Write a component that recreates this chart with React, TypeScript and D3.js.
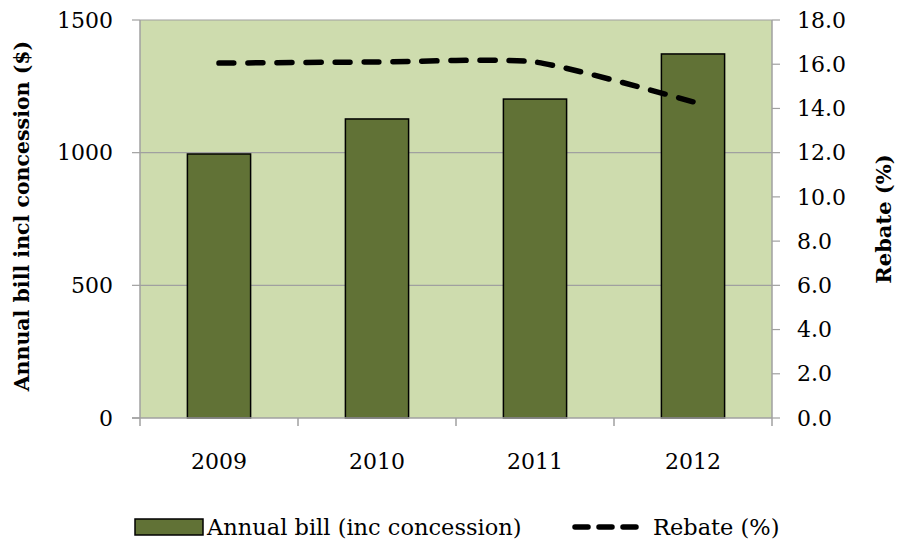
import React from "react";
import * as d3 from "d3";

const years = ["2009", "2010", "2011", "2012"];
const annualBill = [995, 1127, 1202, 1372];
const rebate = [16.05, 16.1, 16.1, 14.3];
const leftTicks = [0, 500, 1000, 1500];
const rightTicks = [0, 2, 4, 6, 8, 10, 12, 14, 16, 18];

const W = 899;
const H = 546;
const M = { left: 140, right: 772, top: 20, bottom: 418 };
const FONT = "'DejaVu Serif', 'Liberation Serif', serif";
const BAR = "#617236";
const BG = "#cedcae";
const AXIS = "#a0a0a0";

export default function App() {
  const x = d3.scaleBand<string>().domain(years).range([M.left, M.right]).paddingInner(0.6).paddingOuter(0.3);
  const xc = d3.scaleBand<string>().domain(years).range([M.left, M.right]);
  const yL = d3.scaleLinear().domain([0, 1500]).range([M.bottom, M.top]);
  const yR = d3.scaleLinear().domain([0, 18]).range([M.bottom, M.top]);
  const line = d3
    .line<number>()
    .x((_, i) => (xc(years[i]) as number) + xc.bandwidth() / 2)
    .y((d) => yR(d))
    .curve(d3.curveCardinal.tension(0.4));
  const bounds = [...years.map((y) => xc(y) as number), M.right];

  return (
    <svg width={W} height={H} style={{ position: "absolute", left: 0, top: 0, background: "#fff" }} fontFamily={FONT}>
      <rect x={M.left} y={M.top} width={M.right - M.left} height={M.bottom - M.top} fill={BG} />
      {leftTicks.map((t) => (
        <g key={"g" + t}>
          {t > 0 && <line x1={M.left} x2={M.right} y1={yL(t)} y2={yL(t)} stroke={AXIS} strokeWidth={1.2} />}
          <line x1={M.left - 8} x2={M.left} y1={yL(t)} y2={yL(t)} stroke={AXIS} strokeWidth={1.2} />
          <text x={113} y={yL(t)} dy="0.35em" textAnchor="end" fontSize={22} fill="#000">
            {t}
          </text>
        </g>
      ))}
      {rightTicks.map((t) => (
        <g key={"r" + t}>
          <line x1={M.right} x2={M.right + 8} y1={yR(t)} y2={yR(t)} stroke={AXIS} strokeWidth={1.2} />
          <text x={797} y={yR(t)} dy="0.35em" textAnchor="start" fontSize={22} fill="#000">
            {t.toFixed(1)}
          </text>
        </g>
      ))}
      {years.map((yr, i) => (
        <rect
          key={yr}
          x={x(yr)}
          y={yL(annualBill[i])}
          width={x.bandwidth()}
          height={M.bottom - yL(annualBill[i])}
          fill={BAR}
          stroke="#000"
          strokeWidth={1.5}
        />
      ))}
      <line x1={M.left} x2={M.left} y1={M.top} y2={M.bottom} stroke={AXIS} strokeWidth={1.5} />
      <line x1={M.right} x2={M.right} y1={M.top} y2={M.bottom} stroke={AXIS} strokeWidth={1.5} />
      <line x1={M.left - 8} x2={M.right} y1={M.bottom} y2={M.bottom} stroke={AXIS} strokeWidth={1.5} />
      {bounds.map((b, i) => (
        <line key={"xt" + i} x1={b} x2={b} y1={M.bottom} y2={M.bottom + 8} stroke={AXIS} strokeWidth={1.5} />
      ))}
      {years.map((yr) => (
        <text key={"xl" + yr} x={(xc(yr) as number) + xc.bandwidth() / 2} y={469} textAnchor="middle" fontSize={22} fill="#000">
          {yr}
        </text>
      ))}
      <path
        d={line(rebate) || ""}
        fill="none"
        stroke="#000"
        strokeWidth={5.5}
        strokeLinecap="round"
        strokeDasharray="15 14"
      />
      <text
        transform={`translate(29, 216) rotate(-90)`}
        textAnchor="middle"
        fontSize={20.5}
        fontWeight="bold"
        fill="#000"
      >
        Annual bill incl concession ($)
      </text>
      <text transform={`translate(891, 219) rotate(-90)`} textAnchor="middle" fontSize={21} fontWeight="bold" fill="#000">
        Rebate (%)
      </text>
      <rect x={135} y={519} width={68} height={16} fill={BAR} stroke="#000" strokeWidth={1.5} />
      <text x={207} y={535} fontSize={22.5} fill="#000">
        Annual bill (inc concession)
      </text>
      <line x1={575} x2={645} y1={527} y2={527} stroke="#000" strokeWidth={5.5} strokeLinecap="round" strokeDasharray="13 11" />
      <text x={653} y={535} fontSize={22.5} fill="#000">
        Rebate (%)
      </text>
    </svg>
  );
}
